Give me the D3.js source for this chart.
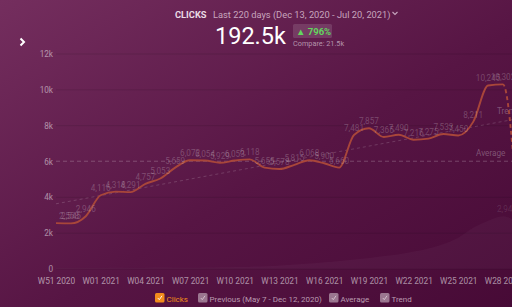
<!DOCTYPE html>
<html>
<head>
<meta charset="utf-8">
<script src="https://cdn.jsdelivr.net/npm/d3@7"></script>
<style>
  html, body { margin: 0; padding: 0; background: #5a1848; }
  svg { display: block; font-family: Roboto, "Noto Sans", sans-serif; }
</style>
</head>
<body>
<svg id="chart" width="512" height="307"></svg>
<script>
// weeks shown on the x axis (one point per week)
const weeks = ['W51 2020', 'W52 2020', 'W53 2020', 'W01 2021', 'W02 2021', 'W03 2021', 'W04 2021', 'W05 2021',
  'W06 2021', 'W07 2021', 'W08 2021', 'W09 2021', 'W10 2021', 'W11 2021', 'W12 2021', 'W13 2021',
  'W14 2021', 'W15 2021', 'W16 2021', 'W17 2021', 'W18 2021', 'W19 2021', 'W20 2021', 'W21 2021',
  'W22 2021', 'W23 2021', 'W24 2021', 'W25 2021', 'W26 2021', 'W27 2021', 'W28 2021', 'W29 2021']

const clicks = [2558, 2545, 2946, 4116, 4318, 4291, 4757, 5053,
  5659, 6072, 6054, 5929, 6053, 6118, 5655, 5578,
  5815, 6068, 5900, 5660, 7481, 7857, 7365, 7490,
  7216, 7275, 7533, 7450, 8211, 10245, 10302, 2930]

// previous period (May 7 - Dec 12, 2020)
const previous = [60, 55, 50, 60, 70, 60, 75, 80,
  70, 65, 80, 95, 110, 130, 160, 200,
  250, 310, 380, 450, 530, 620, 720, 830,
  980, 1150, 1400, 1750, 2300, 2700, 2946, 2600]

const yTicks = [0, 2000, 4000, 6000, 8000, 10000, 12000]
const xTickWeeks = ['W51 2020', 'W01 2021', 'W04 2021', 'W07 2021', 'W10 2021', 'W13 2021',
  'W16 2021', 'W19 2021', 'W22 2021', 'W25 2021', 'W28 2021']

const legendItems = ['Clicks', 'Previous (May 7 - Dec 12, 2020)', 'Average', 'Trend']

const W = 512
const H = 307
const svg = d3.select('#chart')

// background gradient
const defs = svg.append('defs')
const grad = defs.append('linearGradient')
  .attr('id', 'bg')
  .attr('x1', 0).attr('y1', 0).attr('x2', 1).attr('y2', 1)
grad.append('stop').attr('offset', '0%').attr('stop-color', '#742e5e')
grad.append('stop').attr('offset', '55%').attr('stop-color', '#571544')
grad.append('stop').attr('offset', '100%').attr('stop-color', '#470a36')
svg.append('rect').attr('width', W).attr('height', H).attr('fill', 'url(#bg)')

const x = d3.scalePoint().domain(weeks).range([56, 56 + 31 * 14.9])
const y = d3.scaleLinear().domain([0, 12000]).range([269, 54])

const lastIdx = weeks.length - 1
const cut = x(weeks[lastIdx - 1])

defs.append('clipPath').attr('id', 'solidClip')
  .append('rect').attr('x', 0).attr('y', 0).attr('width', cut).attr('height', H)
defs.append('clipPath').attr('id', 'dashClip')
  .append('rect').attr('x', cut).attr('y', 0).attr('width', W).attr('height', H)

// gridlines
svg.append('g')
  .selectAll('line')
  .data(yTicks.filter(d => d !== 6000))
  .enter()
  .append('line')
  .attr('x1', 56)
  .attr('x2', W)
  .attr('y1', d => y(d))
  .attr('y2', d => y(d))
  .attr('stroke', 'rgba(0,0,0,0.10)')
  .attr('stroke-width', 1)

// y axis
const yAxis = d3.axisLeft(y)
  .tickValues(yTicks)
  .tickSize(0)
  .tickPadding(0)
  .tickFormat(d => d === 0 ? '0' : (d / 1000) + 'k')
const yG = svg.append('g').attr('transform', 'translate(53,0)').call(yAxis)
yG.select('.domain').remove()
yG.selectAll('text')
  .attr('fill', 'rgba(255,255,255,0.5)')
  .attr('font-size', 8.2)
  .attr('font-family', 'Roboto')

// x axis
const xAxis = d3.axisBottom(x)
  .tickValues(xTickWeeks)
  .tickSize(0)
  .tickPadding(0)
const xG = svg.append('g').attr('transform', 'translate(0,278)').call(xAxis)
xG.select('.domain').remove()
xG.selectAll('text')
  .attr('fill', 'rgba(255,255,255,0.55)')
  .attr('font-size', 8.3)
  .attr('font-family', 'Roboto')

// previous period area
const area = d3.area()
  .x((d, i) => x(weeks[i]))
  .y0(y(0))
  .y1(d => y(d))
  .curve(d3.curveMonotoneX)
svg.append('path')
  .datum(previous)
  .attr('d', area)
  .attr('fill', 'rgba(255,255,255,0.03)')
svg.append('text')
  .attr('x', x(weeks[lastIdx - 1]) + 4)
  .attr('y', y(previous[lastIdx - 1]) - 4)
  .attr('text-anchor', 'middle')
  .attr('font-size', 8.2)
  .attr('fill', 'rgba(255,255,255,0.12)')
  .text(d3.format(',')(previous[lastIdx - 1]))

// average
const avg = d3.mean(clicks)
svg.append('line')
  .attr('x1', 56).attr('x2', W)
  .attr('y1', y(avg)).attr('y2', y(avg))
  .attr('stroke', 'rgba(255,255,255,0.22)')
  .attr('stroke-dasharray', '4,3')
svg.append('text')
  .attr('x', 476).attr('y', y(avg) - 5)
  .attr('font-size', 8.2)
  .attr('fill', 'rgba(255,255,255,0.28)')
  .text('Average')

// trend (least squares)
const idx = clicks.map((d, i) => i)
const mx = d3.mean(idx)
const slope = d3.sum(idx, i => (i - mx) * (clicks[i] - avg)) / d3.sum(idx, i => (i - mx) * (i - mx))
const icpt = avg - slope * mx
svg.append('line')
  .attr('x1', x(weeks[0])).attr('y1', y(icpt))
  .attr('x2', x(weeks[lastIdx])).attr('y2', y(icpt + slope * lastIdx))
  .attr('stroke', 'rgba(255,255,255,0.2)')
  .attr('stroke-width', 0.8)
  .attr('stroke-dasharray', '3,3')
svg.append('text')
  .attr('x', 497).attr('y', 114)
  .attr('font-size', 8.2)
  .attr('fill', 'rgba(255,255,255,0.28)')
  .text('Trend')

// clicks line
const line = d3.line()
  .x((d, i) => x(weeks[i]))
  .y(d => y(d))
  .curve(d3.curveMonotoneX)
svg.append('path')
  .datum(clicks)
  .attr('d', line)
  .attr('clip-path', 'url(#solidClip)')
  .attr('fill', 'none')
  .attr('stroke', '#a8463a')
  .attr('stroke-width', 1.9)
svg.append('path')
  .datum(clicks)
  .attr('d', line)
  .attr('clip-path', 'url(#dashClip)')
  .attr('fill', 'none')
  .attr('stroke', '#a8463a')
  .attr('stroke-width', 1.9)
  .attr('stroke-dasharray', '4,3')

// value labels
svg.append('g')
  .selectAll('text')
  .data(clicks.slice(0, lastIdx))
  .enter()
  .append('text')
  .attr('x', (d, i) => Math.max(x(weeks[i]), 69))
  .attr('y', d => y(d) - 4)
  .attr('text-anchor', 'middle')
  .attr('font-size', 8.2)
  .attr('fill', 'rgba(255,255,255,0.22)')
  .text(d => d3.format(',')(d))

// header
svg.append('text')
  .attr('x', 175).attr('y', 18)
  .attr('font-size', 9.3)
  .attr('font-weight', 'bold')
  .attr('fill', '#eadbe5')
  .text('CLICKS')
svg.append('text')
  .attr('x', 213).attr('y', 18)
  .attr('font-size', 9.3)
  .attr('fill', '#c7a6be')
  .text('Last 220 days (Dec 13, 2020 - Jul 20, 2021)')
svg.append('path')
  .attr('d', 'M392.5,12 L395,14.5 L397.5,12')
  .attr('fill', 'none')
  .attr('stroke', '#c7a6be')
  .attr('stroke-width', 1.1)
svg.append('text')
  .attr('x', 215).attr('y', 44)
  .attr('font-size', 23.5)
  .attr('fill', '#ffffff')
  .text('192.5k')
svg.append('rect')
  .attr('x', 293).attr('y', 24)
  .attr('width', 39).attr('height', 14)
  .attr('rx', 1.5)
  .attr('fill', 'rgba(255,255,255,0.13)')
svg.append('text')
  .attr('x', 296).attr('y', 34.5)
  .attr('font-size', 9.5)
  .attr('font-weight', 'bold')
  .attr('fill', '#63d55e')
  .text('▲ 796%')
svg.append('text')
  .attr('x', 293).attr('y', 46)
  .attr('font-size', 7.3)
  .attr('fill', '#b493ab')
  .text('Compare: 21.5k')
svg.append('path')
  .attr('d', 'M20.5,38.5 L24,42 L20.5,45.5')
  .attr('fill', 'none')
  .attr('stroke', '#ffffff')
  .attr('stroke-width', 2)

// legend
const legendX = [155, 198, 329, 380]
const lg = svg.append('g')
  .selectAll('g')
  .data(legendItems)
  .enter()
  .append('g')
  .attr('class', 'legend-element')
  .attr('transform', (d, i) => `translate(${legendX[i]},293)`)
lg.append('rect')
  .attr('width', 9.5)
  .attr('height', 9.5)
  .attr('rx', 1.5)
  .attr('fill', (d, i) => i === 0 ? '#f28c1c' : '#9b7690')
lg.append('path')
  .attr('d', 'M2.8,5 L4.3,6.7 L7,2.8')
  .attr('fill', 'none')
  .attr('stroke', (d, i) => i === 0 ? '#ffffff' : '#d9c6d3')
  .attr('stroke-width', 0.9)
lg.append('text')
  .attr('x', 11.5)
  .attr('y', 8.5)
  .attr('font-size', 8)
  .attr('fill', (d, i) => i === 0 ? '#f28c1c' : '#b99ab0')
  .text(d => d)
</script>
</body>
</html>
